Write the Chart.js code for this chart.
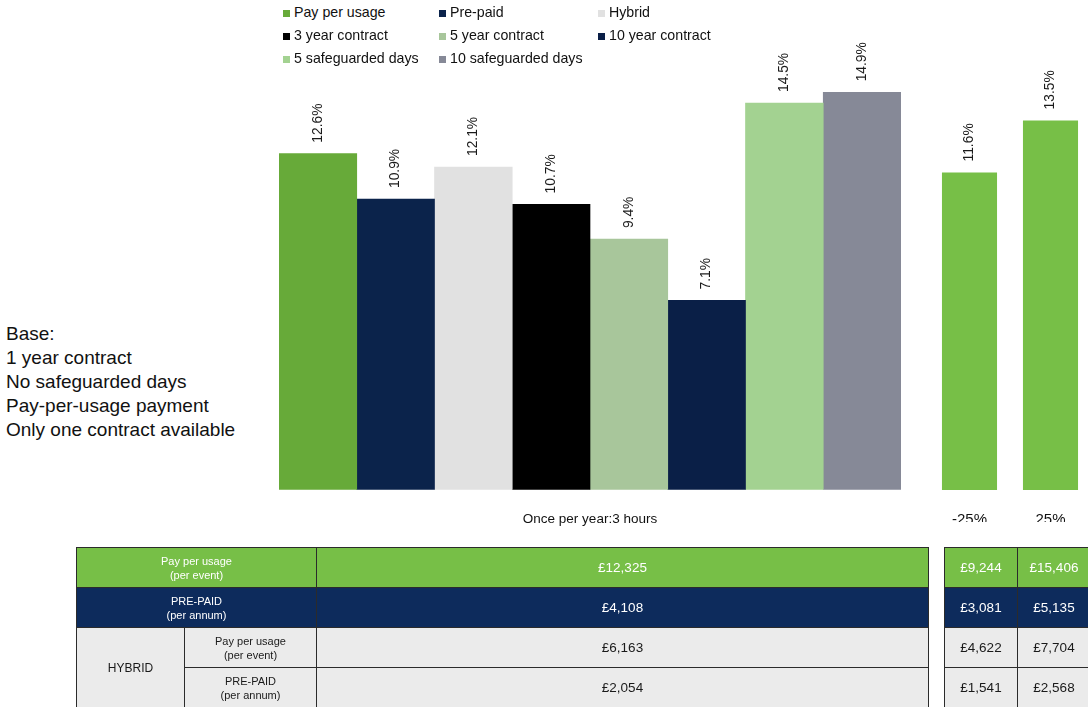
<!DOCTYPE html>
<html>
<head>
<meta charset="utf-8">
<script src="https://cdn.jsdelivr.net/npm/chart.js@4/dist/chart.umd.min.js"></script>
<style>
  html, body { margin: 0; padding: 0; background: #fff; overflow: hidden; }
  body { width: 1088px; height: 708px; position: relative; font-family: "Liberation Sans", Arial, sans-serif; color: #111; }
  #legend { position: absolute; left: 283px; top: 3px; z-index: 3; }
  .lg { position: absolute; white-space: nowrap; font-size: 14.2px; line-height: 18px; height: 18px; }
  .lg i { display: inline-block; width: 7px; height: 7px; margin-right: 4px; vertical-align: 0px; }
  #notes { position: absolute; left: 6px; top: 322px; font-size: 19px; line-height: 24px; color: #111; }
  #mainWrap { position: absolute; left: 279px; top: 30px; width: 622px; height: 518px; z-index: 1; }
  #sideWrap { position: absolute; left: 929px; top: 30px; width: 162px; height: 492px; overflow: hidden; z-index: 1; }
  table.cost { position: absolute; border-collapse: collapse; table-layout: fixed; z-index: 2; }
  table.cost td { border: 1.5px solid #2b2b2b; text-align: center; vertical-align: middle; padding: 0; height: 39px; overflow: hidden; }
  table.cost tr.last td, table.cost td.hy { border-bottom: none; }
  td.lab { font-size: 11px; line-height: 14px; }
  td.val { font-size: 13.5px; }
  tr.g td { background: #77bf47; color: #fff; }
  tr.n td { background: #0d2b5c; color: #fff; }
  tr.h td { background: #ebebeb; color: #1a1a1a; }
  #tLeft { left: 76px; top: 547px; width: 852px; }
  #tRight { left: 944px; top: 547px; width: 146px; }
</style>
</head>
<body>
<div id="legend"></div>
<div id="notes">Base:<br>1 year contract<br>No safeguarded days<br>Pay-per-usage payment<br>Only one contract available</div>
<div id="mainWrap"><canvas id="main" width="622" height="518"></canvas></div>
<div id="sideWrap"><canvas id="side" width="162" height="520"></canvas></div>

<table class="cost" id="tLeft">
  <colgroup><col style="width:108px"><col style="width:132px"><col style="width:612px"></colgroup>
  <tbody id="tLeftBody"></tbody>
</table>
<table class="cost" id="tRight">
  <colgroup><col style="width:73px"><col style="width:73px"></colgroup>
  <tbody id="tRightBody"></tbody>
</table>

<script>
// Scenario chart: one category, one bar per contract option
const categories = ['Once per year:3 hours'];
const seriesNames = ['Pay per usage', 'Pre-paid', 'Hybrid', '3 year contract', '5 year contract', '10 year contract', '5 safeguarded days', '10 safeguarded days'];
const seriesValues = [12.6, 10.9, 12.1, 10.7, 9.4, 7.1, 14.5, 14.9];
const seriesColors = ['#67aa39', '#0b234b', '#e1e1e1', '#000000', '#a8c69b', '#0a1f47', '#a3d291', '#868997'];

// Price sensitivity chart
const sensitivityLabels = ['-25%', '25%'];
const sensitivityValues = [11.6, 13.5];
const sensitivityColor = '#77bf47';

// Cost table
const paymentRows = ['Pay per usage|(per event)', 'PRE-PAID|(per annum)', 'Pay per usage|(per event)', 'PRE-PAID|(per annum)'];
const hybridLabel = 'HYBRID';
const baseCosts = ['£12,325', '£4,108', '£6,163', '£2,054'];
const lowCosts = ['£9,244', '£3,081', '£4,622', '£1,541'];
const highCosts = ['£15,406', '£5,135', '£7,704', '£2,568'];

const FONT = '"Liberation Sans", Arial, sans-serif';

// Legend in three columns
(function () {
  const lg = document.getElementById('legend');
  const colX = [0, 156, 315];
  const rowY = [0, 23, 46];
  seriesNames.forEach((n, i) => {
    const d = document.createElement('div');
    d.className = 'lg';
    d.style.left = colX[i % 3] + 'px';
    d.style.top = rowY[Math.floor(i / 3)] + 'px';
    d.innerHTML = '<i style="background:' + seriesColors[i] + '"></i>' + n;
    lg.appendChild(d);
  });
})();

// Rotated value labels above each bar
const valueLabels = {
  id: 'valueLabels',
  afterDatasetsDraw(chart) {
    const ctx = chart.ctx;
    ctx.save();
    ctx.font = '13.8px ' + FONT;
    ctx.fillStyle = '#1a1a1a';
    ctx.textAlign = 'left';
    ctx.textBaseline = 'middle';
    chart.data.datasets.forEach((ds, di) => {
      const meta = chart.getDatasetMeta(di);
      meta.data.forEach((bar, i) => {
        const v = ds.data[i];
        ctx.save();
        ctx.translate(bar.x, bar.y - 11);
        ctx.rotate(-Math.PI / 2);
        ctx.fillText(v.toFixed(1) + '%', 0, 0);
        ctx.restore();
      });
    });
    ctx.restore();
  }
};

Chart.defaults.font.family = FONT;
Chart.defaults.color = '#111';

new Chart(document.getElementById('main'), {
  type: 'bar',
  data: {
    labels: categories,
    datasets: seriesNames.map((n, i) => ({
      label: n,
      data: [seriesValues[i]],
      backgroundColor: seriesColors[i],
      borderWidth: 0,
      barPercentage: 1,
      categoryPercentage: 1
    }))
  },
  options: {
    responsive: false,
    animation: false,
    layout: { padding: { top: 33, left: 0, right: 0, bottom: 0 } },
    plugins: { legend: { display: false }, tooltip: { enabled: false } },
    scales: {
      x: {
        grid: { display: false, drawTicks: false },
        border: { display: false },
        ticks: { font: { size: 13.5 }, color: '#111', padding: 21 }
      },
      y: { display: false, min: 0, max: 16 }
    }
  },
  plugins: [valueLabels]
});

new Chart(document.getElementById('side'), {
  type: 'bar',
  data: {
    labels: sensitivityLabels,
    datasets: [{
      label: 'Pay per usage',
      data: sensitivityValues,
      backgroundColor: sensitivityColor,
      borderWidth: 0,
      barPercentage: 0.68,
      categoryPercentage: 1
    }]
  },
  options: {
    responsive: false,
    animation: false,
    layout: { padding: { top: 22, left: 0, right: 0, bottom: 0 } },
    plugins: { legend: { display: false }, tooltip: { enabled: false } },
    scales: {
      x: {
        grid: { display: false, drawTicks: false },
        border: { display: false },
        ticks: { font: { size: 15 }, color: '#111', padding: 21 }
      },
      y: { display: false, min: 0, max: 16 }
    }
  },
  plugins: [valueLabels]
});

// Cost tables
(function () {
  const rowCls = ['g', 'n', 'h', 'h'];
  const lab = s => s.split('|').join('<br>');
  const lb = document.getElementById('tLeftBody');
  const rb = document.getElementById('tRightBody');
  paymentRows.forEach((r, i) => {
    const tr = document.createElement('tr');
    tr.className = rowCls[i] + (i === 3 ? ' last' : '');
    let html = '';
    if (i < 2) {
      html += '<td class="lab" colspan="2">' + lab(r) + '</td>';
    } else {
      if (i === 2) html += '<td class="lab hy" rowspan="2" style="font-size:12px">' + hybridLabel + '</td>';
      html += '<td class="lab">' + lab(r) + '</td>';
    }
    html += '<td class="val">' + baseCosts[i] + '</td>';
    tr.innerHTML = html;
    lb.appendChild(tr);
    const tr2 = document.createElement('tr');
    tr2.className = rowCls[i] + (i === 3 ? ' last' : '');
    tr2.innerHTML = '<td class="val">' + lowCosts[i] + '</td><td class="val">' + highCosts[i] + '</td>';
    rb.appendChild(tr2);
  });
})();
</script>
</body>
</html>
